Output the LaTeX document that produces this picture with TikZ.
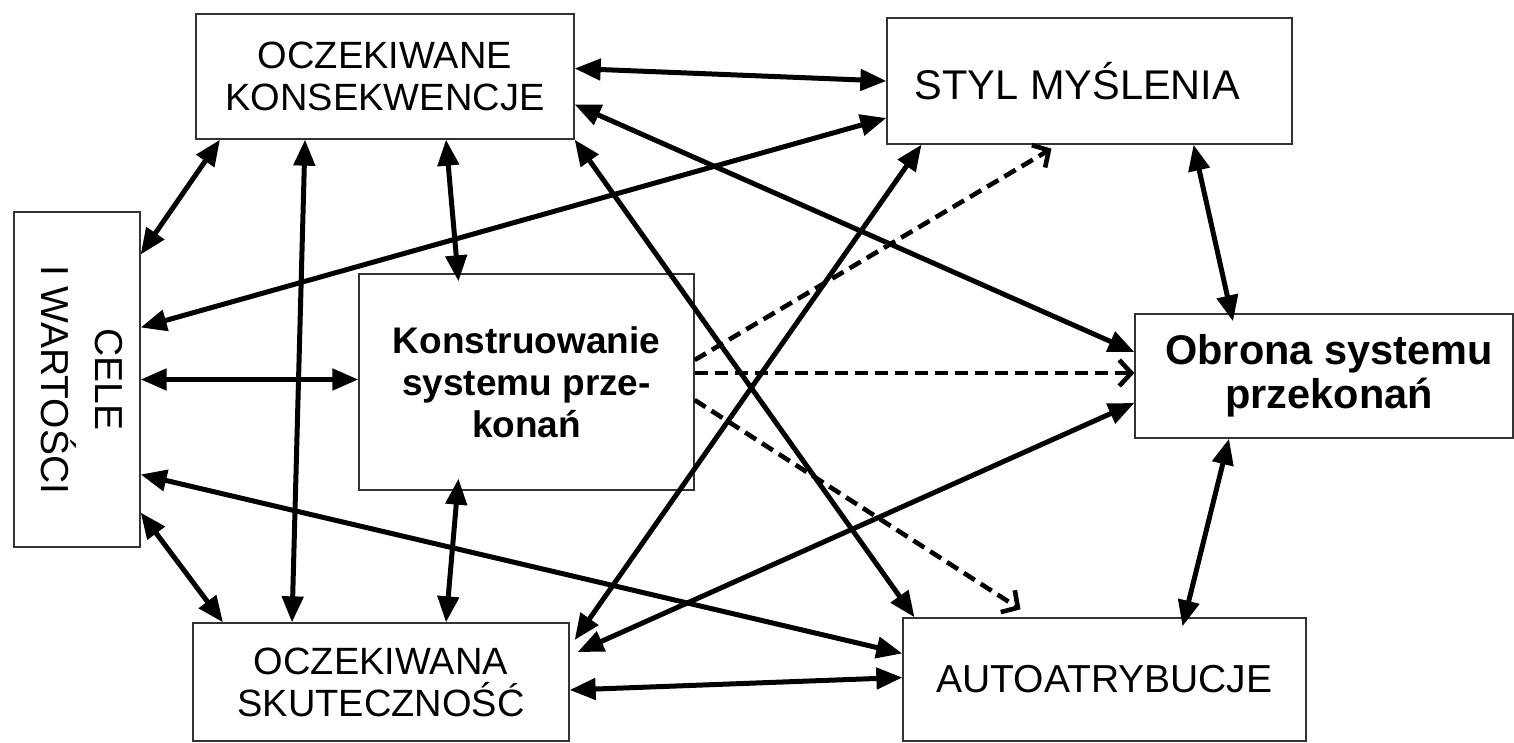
\documentclass[tikz,border=0pt]{standalone}
\usepackage{fontspec}
\setmainfont{Liberation Sans}
\usetikzlibrary{arrows.meta}

\begin{document}
\begin{tikzpicture}[x=1pt,y=-1pt]
\tikzset{
  blk/.style={draw=black!80,line width=1.3pt,fill=white,align=center,inner sep=0pt,font=\fontsize{38}{42}\selectfont},
  bld/.style={blk,font=\fontsize{37}{42}\selectfont\bfseries},
  arr/.style={{Triangle[length=26pt,width=21pt]}-{Triangle[length=26pt,width=21pt]},line width=5pt},
  darr/.style={-{Straight Barb[length=12pt,width=26pt]},line width=4.6pt,dash pattern=on 13pt off 7pt}
}
\useasboundingbox (0,0) rectangle (1514,743);

% boxes
\node[blk,minimum width=378pt,minimum height=125pt] (ok) at (385,76.5) {OCZEKIWANE\\KONSEKWENCJE};
\node[blk,minimum width=405pt,minimum height=126pt,font=\fontsize{41.5}{44}\selectfont] (styl) at (1089.5,81) {STYL MYŚLENIA\hspace*{24pt}};
\node[blk,minimum width=126pt,minimum height=335pt] (cw) at (77,379.5) {%
  \rotatebox{-90}{\fontsize{39}{42}\selectfont\begin{tabular}{@{}c@{}}CELE\\[6pt]I WARTOŚCI\end{tabular}}};
\node[bld,minimum width=335pt,minimum height=216pt] (ks) at (526.5,382) {Konstruowanie\\systemu prze-\\konań};
\node[bld,minimum width=378pt,minimum height=124pt,font=\fontsize{41.5}{44}\selectfont\bfseries] (ob) at (1324,376) {\hspace*{10pt}Obrona systemu\\\hspace*{10pt}przekonań};
\node[blk,minimum width=376pt,minimum height=118pt] (os) at (381,682) {OCZEKIWANA\\SKUTECZNOŚĆ};
\node[blk,minimum width=403pt,minimum height=123pt,font=\fontsize{39}{42}\selectfont] (autoat) at (1104.5,679.5) {AUTOATRYBUCJE};

% solid links
\draw[arr] ([xshift=-165pt]ok.south) -- ([yshift=125pt]cw.east);
\draw[arr] ([xshift=-80pt]ok.south) -- ([xshift=-89pt]os.north);
\draw[arr] ([xshift=61pt]ok.south) -- ([xshift=-68pt,yshift=-8pt]ks.north);
\draw[arr] ([yshift=8pt]ok.east) -- (styl.west);
\draw[arr] ([yshift=-28pt]ok.east) -- ([yshift=24pt]ob.west);
\draw[arr] (ok.south east) -- ([xshift=-190pt]autoat.north);
\draw[arr] ([yshift=52pt]cw.east) -- ([yshift=-37pt]styl.west);
\draw[arr] (cw.east) -- (cw.east -| ks.west);
\draw[arr] ([yshift=-95pt]cw.east) -- ([yshift=26pt]autoat.west);
\draw[arr] ([yshift=-133pt]cw.east) -- ([xshift=-158pt]os.north);
\draw[arr] ([xshift=-68pt,yshift=12pt]ks.south) -- ([xshift=65pt]os.north);
\draw[arr] ([yshift=-8pt]os.east) -- ([yshift=2pt]autoat.west);
\draw[arr] ([yshift=-27pt]ob.west) -- ([xshift=8pt,yshift=30pt]os.east);
\draw[arr] ([xshift=-168pt]styl.south) -- ([xshift=5pt,yshift=42pt]os.east);
\draw[arr] ([xshift=104pt]styl.south) -- ([xshift=-91pt,yshift=-8pt]ob.north);
\draw[arr] ([xshift=-95pt]ob.south) -- ([xshift=78pt,yshift=-9pt]autoat.north);

% dashed links
\draw[darr] ([yshift=22pt]ks.east) -- ([xshift=-38pt,yshift=-4pt]styl.south);
\draw[darr] ([yshift=9pt]ks.east) -- ([yshift=3pt]ob.west);
\draw[darr] ([yshift=-18pt]ks.east) -- ([xshift=-84pt,yshift=8pt]autoat.north);
\end{tikzpicture}
\end{document}
